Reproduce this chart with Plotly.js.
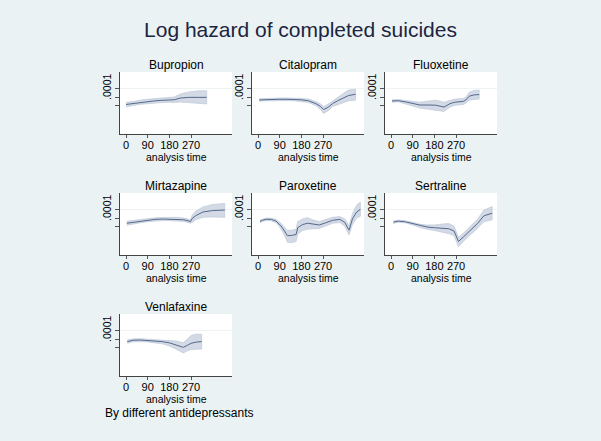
<!DOCTYPE html>
<html>
<head>
<meta charset="utf-8">
<script src="https://cdn.plot.ly/plotly-3.0.1.min.js"></script>
<style>
  html, body { margin: 0; padding: 0; background: #eaf2f3; }
  #plot { width: 601px; height: 441px; }
</style>
</head>
<body>
<div id="plot"></div>
<script>
// Drug names, in panel order
let drugs = ['Bupropion', 'Citalopram', 'Fluoxetine', 'Mirtazapine', 'Paroxetine', 'Sertraline', 'Venlafaxine'];

// x ticks (analysis time, days)
let timeTicks = [0, 90, 180, 270];

// log10 hazard: estimate, lower and upper bound of the band
let bupropionDays = [0, 30, 60, 90, 120, 150, 180, 200, 225, 260, 300, 335];
let bupropionEst  = [-4.93, -4.87, -4.80, -4.75, -4.72, -4.69, -4.67, -4.66, -4.56, -4.52, -4.52, -4.52];
let bupropionHi   = [-4.80, -4.76, -4.67, -4.61, -4.59, -4.56, -4.53, -4.50, -4.33, -4.21, -4.14, -4.14];
let bupropionLo   = [-5.07, -4.99, -4.92, -4.87, -4.84, -4.82, -4.80, -4.82, -4.79, -4.83, -4.87, -4.90];

let citalopramDays = [5, 30, 60, 90, 120, 150, 180, 210, 240, 260, 272, 290, 310, 330, 350, 375, 405];
let citalopramEst  = [-4.67, -4.65, -4.64, -4.63, -4.63, -4.63, -4.66, -4.72, -4.88, -5.05, -5.22, -5.10, -4.88, -4.72, -4.58, -4.42, -4.34];
let citalopramHi   = [-4.60, -4.58, -4.57, -4.56, -4.56, -4.56, -4.58, -4.62, -4.76, -4.90, -5.05, -4.92, -4.72, -4.50, -4.30, -4.10, -4.05];
let citalopramLo   = [-4.74, -4.72, -4.71, -4.70, -4.71, -4.72, -4.75, -4.82, -5.00, -5.22, -5.45, -5.30, -5.05, -4.95, -4.85, -4.72, -4.68];

let fluoxetineDays = [4, 30, 60, 90, 120, 150, 185, 220, 245, 265, 300, 310, 325, 345, 366];
let fluoxetineEst  = [-4.73, -4.71, -4.78, -4.88, -4.96, -4.96, -4.97, -5.08, -4.88, -4.80, -4.75, -4.68, -4.45, -4.38, -4.36];
let fluoxetineHi   = [-4.66, -4.65, -4.70, -4.76, -4.80, -4.74, -4.68, -4.80, -4.68, -4.62, -4.58, -4.52, -4.22, -4.12, -4.10];
let fluoxetineLo   = [-4.80, -4.78, -4.88, -5.02, -5.14, -5.22, -5.27, -5.33, -5.08, -4.98, -4.93, -4.86, -4.68, -4.64, -4.62];

let mirtazapineDays = [3, 30, 60, 90, 120, 150, 180, 210, 240, 268, 275, 290, 320, 360, 410];
let mirtazapineEst  = [-4.80, -4.74, -4.67, -4.61, -4.58, -4.56, -4.56, -4.56, -4.60, -4.70, -4.52, -4.36, -4.15, -4.07, -4.04];
let mirtazapineHi   = [-4.68, -4.63, -4.57, -4.52, -4.49, -4.47, -4.46, -4.46, -4.50, -4.60, -4.32, -4.10, -3.86, -3.72, -3.66];
let mirtazapineLo   = [-4.92, -4.86, -4.77, -4.71, -4.67, -4.65, -4.65, -4.66, -4.70, -4.80, -4.72, -4.60, -4.46, -4.44, -4.46];

let paroxetineDays = [8, 20, 35, 55, 75, 95, 110, 122, 140, 158, 165, 185, 205, 230, 255, 280, 310, 340, 360, 378, 392, 410, 425];
let paroxetineEst  = [-4.70, -4.62, -4.57, -4.58, -4.68, -4.95, -5.25, -5.52, -5.50, -5.45, -5.05, -4.88, -4.80, -4.86, -4.90, -4.78, -4.63, -4.58, -4.75, -5.20, -4.55, -4.15, -4.00];
let paroxetineHi   = [-4.62, -4.55, -4.50, -4.51, -4.58, -4.80, -5.02, -5.20, -5.20, -5.15, -4.70, -4.55, -4.48, -4.62, -4.70, -4.58, -4.46, -4.42, -4.55, -4.95, -4.25, -3.75, -3.58];
let paroxetineLo   = [-4.78, -4.69, -4.64, -4.66, -4.78, -5.12, -5.50, -5.90, -5.92, -5.85, -5.42, -5.22, -5.15, -5.12, -5.10, -4.98, -4.80, -4.76, -4.98, -5.48, -4.88, -4.50, -4.40];

let sertralineDays = [10, 30, 60, 90, 120, 150, 180, 210, 240, 262, 270, 280, 300, 330, 360, 385, 420];
let sertralineEst  = [-4.74, -4.68, -4.72, -4.82, -4.95, -5.02, -5.06, -5.08, -5.12, -5.25, -5.50, -5.85, -5.60, -5.20, -4.80, -4.38, -4.22];
let sertralineHi   = [-4.67, -4.62, -4.66, -4.75, -4.86, -4.90, -4.90, -4.85, -4.82, -4.98, -5.25, -5.62, -5.38, -4.98, -4.55, -4.05, -3.84];
let sertralineLo   = [-4.81, -4.74, -4.78, -4.90, -5.05, -5.15, -5.22, -5.30, -5.40, -5.52, -5.78, -6.15, -5.85, -5.45, -5.08, -4.72, -4.60];

let venlafaxineDays = [5, 30, 60, 90, 120, 150, 180, 210, 238, 255, 270, 290, 314];
let venlafaxineEst  = [-4.65, -4.57, -4.56, -4.58, -4.62, -4.65, -4.72, -4.85, -4.98, -4.86, -4.75, -4.68, -4.65];
let venlafaxineHi   = [-4.55, -4.49, -4.48, -4.50, -4.53, -4.54, -4.56, -4.62, -4.72, -4.50, -4.30, -4.22, -4.22];
let venlafaxineLo   = [-4.75, -4.66, -4.65, -4.67, -4.72, -4.78, -4.90, -5.10, -5.30, -5.18, -5.10, -5.08, -5.08];

let series = [
    [bupropionDays, bupropionEst, bupropionLo, bupropionHi],
    [citalopramDays, citalopramEst, citalopramLo, citalopramHi],
    [fluoxetineDays, fluoxetineEst, fluoxetineLo, fluoxetineHi],
    [mirtazapineDays, mirtazapineEst, mirtazapineLo, mirtazapineHi],
    [paroxetineDays, paroxetineEst, paroxetineLo, paroxetineHi],
    [sertralineDays, sertralineEst, sertralineLo, sertralineHi],
    [venlafaxineDays, venlafaxineEst, venlafaxineLo, venlafaxineHi]
];

// panel placement (pixels from top-left)
let W = 601, H = 441;
let colX = [[120, 232], [252, 364], [385, 497]];
let rowY = [[72, 134], [193, 255], [314, 376]];

let data = [];
let layout = {
    width: W,
    height: H,
    margin: {l: 0, r: 0, t: 0, b: 0},
    paper_bgcolor: '#eaf2f3',
    plot_bgcolor: '#ffffff',
    showlegend: false,
    font: {family: 'Liberation Sans, Arial, sans-serif', color: '#000000'},
    title: {
        text: 'Log hazard of completed suicides',
        font: {size: 21, color: '#1c2541'},
        x: 0.5, xanchor: 'center',
        y: 1 - 30 / H, yanchor: 'middle'
    },
    annotations: [{
        text: 'By different antidepressants',
        xref: 'paper', yref: 'paper',
        x: 103 / W, y: 1 - 413 / H,
        xanchor: 'left', yanchor: 'middle',
        showarrow: false,
        font: {size: 12, color: '#000000'}
    }]
};

drugs.forEach(function (drug, i) {
    let s = series[i];
    let days = s[0], est = s[1], lo = s[2], hi = s[3];
    let n = i + 1;
    let xa = n === 1 ? 'x' : 'x' + n;
    let ya = n === 1 ? 'y' : 'y' + n;

    // confidence band as a closed polygon
    data.push({
        x: days.concat(days.slice().reverse()),
        y: hi.concat(lo.slice().reverse()),
        xaxis: xa, yaxis: ya,
        type: 'scatter', mode: 'lines',
        fill: 'toself',
        fillcolor: 'rgba(196,206,222,0.75)',
        line: {color: '#b7c2d3', width: 0.6},
        hoverinfo: 'skip'
    });
    data.push({
        x: days, y: est,
        xaxis: xa, yaxis: ya,
        type: 'scatter', mode: 'lines',
        line: {color: '#55698a', width: 1}
    });

    let col = colX[i % 3], row = rowY[Math.floor(i / 3)];
    let xkey = n === 1 ? 'xaxis' : 'xaxis' + n;
    let ykey = n === 1 ? 'yaxis' : 'yaxis' + n;

    layout[xkey] = {
        domain: [col[0] / W, col[1] / W],
        anchor: ya,
        range: [-25, 440],
        tickvals: timeTicks,
        ticks: 'outside', ticklen: 3, tickcolor: '#555',
        tickfont: {size: 11},
        ticklabelstandoff: -2,
        showgrid: false, zeroline: false,
        showline: true, linecolor: '#444', linewidth: 1
    };
    layout[ykey] = {
        domain: [1 - row[1] / H, 1 - row[0] / H],
        anchor: xa,
        range: [-6.63, -3.06],
        tickvals: [-4],
        ticktext: ['.0001'],
        tickangle: -90,
        ticks: 'outside', ticklen: 4, tickcolor: '#555',
        tickfont: {size: 10.5},
        minor: {tickvals: [-5, -4.5], ticks: 'outside', ticklen: 4, tickcolor: '#555', showgrid: false},
        showgrid: true, gridcolor: '#eef3f4', gridwidth: 1,
        zeroline: false,
        showline: true, linecolor: '#444', linewidth: 1
    };

    // panel title
    layout.annotations.push({
        text: drug,
        xref: 'paper', yref: 'paper',
        x: (col[0] + col[1]) / 2 / W,
        y: 1 - (row[0] - 7) / H,
        xanchor: 'center', yanchor: 'middle',
        showarrow: false,
        font: {size: 12, color: '#000000'}
    });
    // x axis title
    layout.annotations.push({
        text: 'analysis time',
        xref: 'paper', yref: 'paper',
        x: (col[0] + col[1]) / 2 / W,
        y: 1 - (row[1] + 23) / H,
        xanchor: 'center', yanchor: 'middle',
        showarrow: false,
        font: {size: 10.5, color: '#000000'}
    });
});

Plotly.newPlot('plot', data, layout, {displayModeBar: false, staticPlot: true});
</script>
</body>
</html>
